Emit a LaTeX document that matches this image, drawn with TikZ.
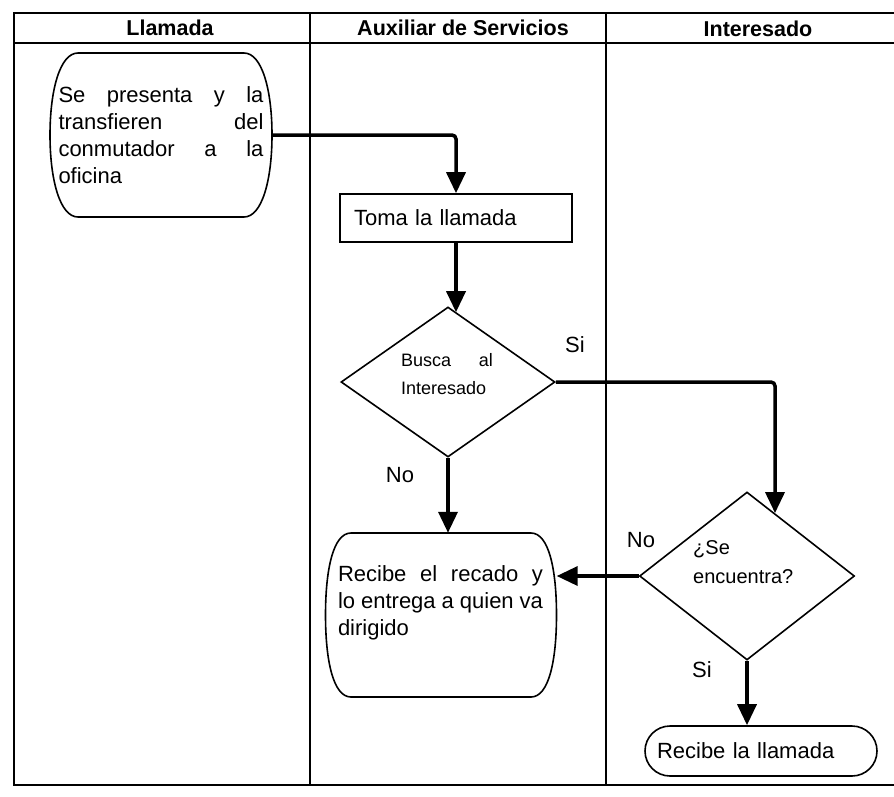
\documentclass[tikz,border=0pt]{standalone}
\usepackage{fontspec}
\setmainfont{Liberation Sans}
\usetikzlibrary{arrows.meta,shapes.geometric}
\begin{document}
\begin{tikzpicture}[x=1pt,y=-1pt,
  frame/.style={line width=2pt, line cap=rect},
  hframe/.style={line width=2.6pt, line cap=rect},
  outline/.style={line width=1.6pt},
  conn/.style={line width=3.5pt, -{Triangle[width=19pt,length=21pt]}, rounded corners=4pt},
  namebox/.style={draw=none, inner sep=0pt, rectangle},
  txt/.style={font=\fontsize{22}{27}\selectfont, inner sep=0pt},
  head/.style={font=\bfseries\fontsize{21.5}{24}\selectfont, inner sep=0pt},
  lab/.style={font=\fontsize{22}{24}\selectfont, inner sep=0pt},
  small/.style={font=\fontsize{18}{28}\selectfont, inner sep=0pt, align=left},
  dia/.style={diamond, draw, outline, inner sep=0pt},
]
\useasboundingbox[fill=white] (0,0) rectangle (894,796);

% frame
\draw[hframe] (14,13) -- (894,13);
\draw[hframe] (14,43) -- (894,43);
\draw[hframe] (14,785) -- (894,785);
\draw[frame] (14,13) -- (14,785);
\draw[frame] (310,13) -- (310,785);
\draw[frame] (606,13) -- (606,785);

% headers
\node[head] (h1) at (170,28) {Llamada};
\node[head] (h2) at (463,28) {Auxiliar de Servicios};
\node[head] (h3) at (758,29) {Interesado};

% node 1
\draw[outline] (78,53) -- (244,53) .. controls (262,53) and (272,90) .. (272,135)
  .. controls (272,180) and (262,217) .. (244,217) -- (78,217)
  .. controls (60,217) and (50,180) .. (50,135) .. controls (50,90) and (60,53) .. (78,53) -- cycle;
\node[namebox, minimum width=222pt, minimum height=164pt, txt, align=left] (n1) at (161,135)
  {\makebox[205pt][s]{Se presenta y la}\\\makebox[205pt][s]{transfieren del}\\\makebox[205pt][s]{conmutador a la}\\oficina};

% toma la llamada
\node[draw, outline, minimum width=232pt, minimum height=48pt, inner xsep=14pt, inner ysep=0pt,
  text width=204pt, align=left, font=\fontsize{22}{27}\selectfont] (toma) at (456,218) {Toma la llamada};

% decision 1
\node[dia, minimum width=214pt, minimum height=150pt] (d1) at (448,382) {};
\node[small] (d1t) at (447,374) {\makebox[92pt][s]{Busca al}\\Interesado};

% recibe el recado
\draw[outline] (351,533) -- (531,533) .. controls (549,533) and (556.5,570) .. (556.5,615)
  .. controls (556.5,660) and (549,697) .. (531,697) -- (351,697)
  .. controls (333,697) and (325.5,660) .. (325.5,615) .. controls (325.5,570) and (333,533) .. (351,533) -- cycle;
\node[namebox, minimum width=231pt, minimum height=164pt] (rec) at (441,615) {};
\node[txt, align=left] (rect) at (440.5,603)
  {\makebox[205pt][s]{Recibe el recado y}\\\makebox[205pt][s]{lo entrega a quien va}\\dirigido};

% decision 2
\node[dia, minimum width=215pt, minimum height=168pt] (d2) at (747,576) {};
\node[small, font=\fontsize{20}{29}\selectfont, anchor=west] (d2t) at (693,562) {¿Se\\encuentra?};

% recibe la llamada
\node[draw, outline, rounded corners=25pt, minimum width=232pt, minimum height=50pt,
  inner xsep=12pt, inner ysep=0pt, text width=208pt, align=left,
  font=\fontsize{22}{27}\selectfont] (rec2) at (761,751) {Recibe la llamada};

% labels
\node[lab] (si1) at (575,345) {Si};
\node[lab] (no1) at (400,475) {No};
\node[lab] (no2) at (641,540) {No};
\node[lab] (si2) at (702,670) {Si};

% connectors
\draw[conn] (n1.east) -| (toma.north);
\draw[conn] (toma.south) -- (toma.south |- d1.83);
\draw[conn] (d1.east) -| (d2.66);
\draw[conn] (d1.south) -- (d1.south |- rec.north);
\draw[conn] (d2.west) -- (d2.west -| rec.east);
\draw[conn] (d2.south) -- (d2.south |- rec2.north);
\end{tikzpicture}
\end{document}
